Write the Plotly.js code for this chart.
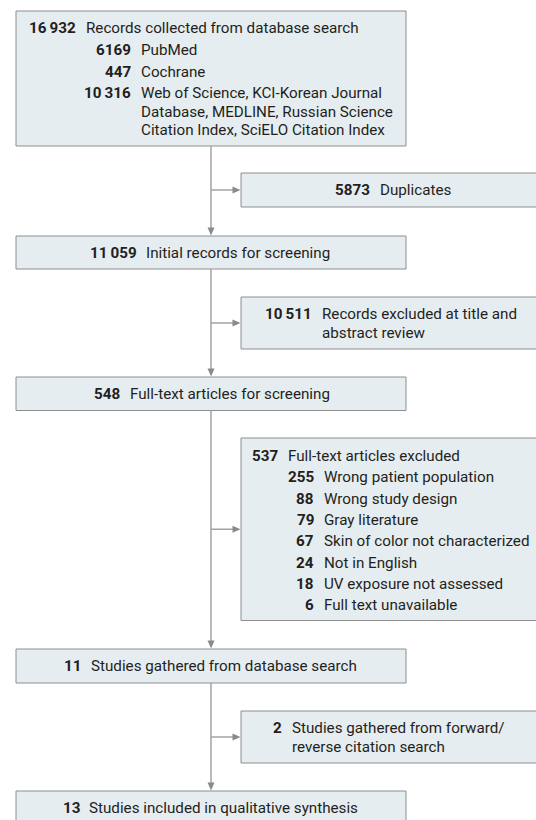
<!DOCTYPE html>
<html>
<head>
<meta charset="utf-8">
<script src="https://cdn.plot.ly/plotly-3.0.1.min.js"></script>
<style>
html, body { margin: 0; padding: 0; background: #ffffff; }
#chart { width: 536px; height: 820px; }
</style>
</head>
<body>
<div id="chart"></div>
<script>
// ---------------- DATA ----------------
// Main flow stages (count + label; "|" marks a line break)
const stageCounts = [16932, 5873, 11059, 10511, 548, 537, 11, 2, 13];
const stageLabels = [
  'Records collected from database search',
  'Duplicates',
  'Initial records for screening',
  'Records excluded at title and|abstract review',
  'Full-text articles for screening',
  'Full-text articles excluded',
  'Studies gathered from database search',
  'Studies gathered from forward/|reverse citation search',
  'Studies included in qualitative synthesis'
];
// Database sources of the first stage
const sourceCounts = [6169, 447, 10316];
const sourceLabels = [
  'PubMed',
  'Cochrane',
  'Web of Science, KCI-Korean Journal|Database, MEDLINE, Russian Science|Citation Index, SciELO Citation Index'
];
// Reasons for full-text exclusion
const exclusionCounts = [255, 88, 79, 67, 24, 18, 6];
const exclusionLabels = [
  'Wrong patient population',
  'Wrong study design',
  'Gray literature',
  'Skin of color not characterized',
  'Not in English',
  'UV exposure not assessed',
  'Full text unavailable'
];

// ---------------- STYLE / LAYOUT ----------------
const FONT = 'Roboto, "Open Sans", sans-serif';
const FS = 15.2;
const TEXT = '#231f20';
const FILL = '#e6edf1';
const BORDER = '#8e8e8e';
const CONN = '#a3a3a3';
const HEAD = '#8a8a8a';
const MAINX = 211;
const LEAD = 18.6;     // wrapped line leading

// box geometry per stage [x0, x1, y0, y1]
const boxGeom = [
  [16, 406, 11, 146],
  [241, 537, 173, 207],
  [16, 406, 236, 269],
  [241, 537, 297, 349],
  [16, 406, 377, 410.5],
  [241, 537, 438, 620.5],
  [16, 406, 649, 683],
  [241, 537, 711, 763],
  [16, 406, 791, 824]
];
// text placement per stage: [numberRightX, labelLeftX, firstRowY]
const textPos = [
  [77, 84.5, 28.3],
  [371, 378.5, 190],
  [138, 145, 252.5],
  [313, 320.5, 314.3],
  [121, 128.5, 394],
  [279, 287, 456],
  [82, 89.5, 666],
  [282.7, 290.5, 728.3],
  [81, 87.5, 808]
];

function fmt(n) {
  const s = String(n);
  if (n >= 10000) return s.replace(/\B(?=(\d{3})+(?!\d))/g, '\u2009');
  return s;
}

const shapes = [];
const annotations = [];

function ann(x, y, text, anchor, bold) {
  annotations.push({
    x: x, y: y, xref: 'x', yref: 'y',
    text: bold ? '<b>' + text + '</b>' : text,
    showarrow: false, xanchor: anchor, yanchor: 'middle',
    font: { family: FONT, size: FS, color: TEXT },
    borderpad: 0
  });
}

function row(numRight, labelLeft, y, count, label) {
  ann(numRight, y, fmt(count), 'right', true);
  label.split('|').forEach((ln, k) => ann(labelLeft, y + k * LEAD, ln, 'left', false));
}

// boxes
boxGeom.forEach(g => {
  shapes.push({
    type: 'rect', xref: 'x', yref: 'y',
    x0: g[0], x1: g[1], y0: g[2], y1: g[3],
    fillcolor: FILL, line: { color: BORDER, width: 1 }, layer: 'below'
  });
});

// stage texts
stageCounts.forEach((c, i) => {
  const p = textPos[i];
  row(p[0], p[1], p[2], c, stageLabels[i]);
});

// sources inside first box
let y = textPos[0][2];
let prevLines = 1;
sourceCounts.forEach((c, i) => {
  y += 21.6 + (prevLines - 1) * LEAD;
  row(132, 140, y, c, sourceLabels[i]);
  prevLines = sourceLabels[i].split('|').length;
});

// exclusion reasons inside box 6
exclusionCounts.forEach((c, i) => {
  row(315, 323.3, textPos[5][2] + (i + 1) * 21.3, c, exclusionLabels[i]);
});

// connectors
function vArrow(x, yStart, yEnd) {
  shapes.push({ type: 'line', xref: 'x', yref: 'y', x0: x, x1: x, y0: yStart, y1: yEnd - 7,
    line: { color: CONN, width: 1.5 } });
  shapes.push({ type: 'path', xref: 'x', yref: 'y',
    path: `M ${x - 3.5} ${yEnd - 8} L ${x + 3.5} ${yEnd - 8} L ${x} ${yEnd} Z`,
    fillcolor: HEAD, line: { width: 0 } });
}
function hArrow(yv, xStart, xEnd) {
  shapes.push({ type: 'line', xref: 'x', yref: 'y', x0: xStart, x1: xEnd - 7, y0: yv, y1: yv,
    line: { color: CONN, width: 1.5 } });
  shapes.push({ type: 'path', xref: 'x', yref: 'y',
    path: `M ${xEnd - 8} ${yv - 3.5} L ${xEnd - 8} ${yv + 3.5} L ${xEnd} ${yv} Z`,
    fillcolor: HEAD, line: { width: 0 } });
}
// main column stages: 0,2,4,6,8 ; side stages: 1,3,5,7
for (let i = 0; i < 8; i += 2) {
  const top = boxGeom[i][3];
  const next = boxGeom[i + 2][2];
  vArrow(MAINX, top, next - 0.5);
  const side = boxGeom[i + 1];
  hArrow((side[2] + side[3]) / 2, MAINX, side[0] - 0.5);
}

const layout = {
  width: 536, height: 820,
  margin: { l: 0, r: 0, t: 0, b: 0, pad: 0 },
  paper_bgcolor: '#ffffff', plot_bgcolor: '#ffffff',
  xaxis: { range: [0, 536], visible: false, fixedrange: true },
  yaxis: { range: [820, 0], visible: false, fixedrange: true },
  showlegend: false,
  shapes: shapes,
  annotations: annotations
};

Plotly.newPlot('chart', [{ type: 'scatter', x: [], y: [], hoverinfo: 'skip', showlegend: false }],
  layout, { staticPlot: true, displayModeBar: false });
</script>
</body>
</html>
